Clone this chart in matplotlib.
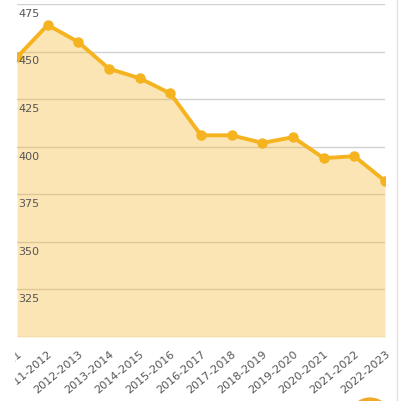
import numpy as np
import matplotlib.pyplot as plt
from matplotlib.patches import Circle
from matplotlib.transforms import Bbox, TransformedBbox

years = ['2010-2011', '2011-2012', '2012-2013', '2013-2014', '2014-2015',
         '2015-2016', '2016-2017', '2017-2018', '2018-2019', '2019-2020',
         '2020-2021', '2021-2022', '2022-2023']
values = [447, 464, 455, 441, 436, 428, 406, 406, 402, 405, 394, 395, 382]
yticks = [325, 350, 375, 400, 425, 450, 475]

line_col = '#F5B320'

fig = plt.figure(figsize=(4.04, 4.02), dpi=100)
ax = fig.add_axes([17/404, 1-338/402, 368/404, 333/402])

x = np.arange(len(years))
# transparent fill sits on top of the grid, like the original
ax.fill_between(x, values, 300, color=line_col, alpha=0.33, lw=0, zorder=2)
ax.plot(x, values, color=line_col, lw=2.8, marker='o', ms=6.5, zorder=3)

ax.set_xlim(0, len(years) - 1)
ax.set_ylim(300, 475)

for v in yticks:
    ax.axhline(v, color='#d2d2d2', lw=1, zorder=1)
    ax.text(0.003, v - 2.0, str(v), transform=ax.get_yaxis_transform(),
            ha='left', va='top', fontsize=8, color='#555555', zorder=4)
ax.axhline(300, color='#d2d2d2', lw=1, zorder=1)

ax.set_yticks([])
ax.set_xticks(x)
ax.set_xticklabels(years, rotation=40, ha='right', rotation_mode='anchor',
                   fontsize=8, color='#555555')
ax.tick_params(axis='x', length=0, pad=8)
# the screenshot is cut on the left, labels vanish left of ~15px
clip = TransformedBbox(Bbox([[15/404, 0], [1, 1]]), fig.transFigure)
for lab in ax.get_xticklabels():
    lab.set_clip_on(True)
    lab.set_clip_box(clip)
for s in ax.spines.values():
    s.set_visible(False)

# right border of the panel and the round button peeking at the bottom
fig.add_artist(plt.Line2D([397/404, 397/404], [0, 1], color='#e2e2e2', lw=1))
fig.add_artist(Circle((370/404, 1-420/402), 21/404, transform=fig.transFigure,
                      color='#F0A928', clip_on=False))

fig.savefig('out.png', dpi=100)
